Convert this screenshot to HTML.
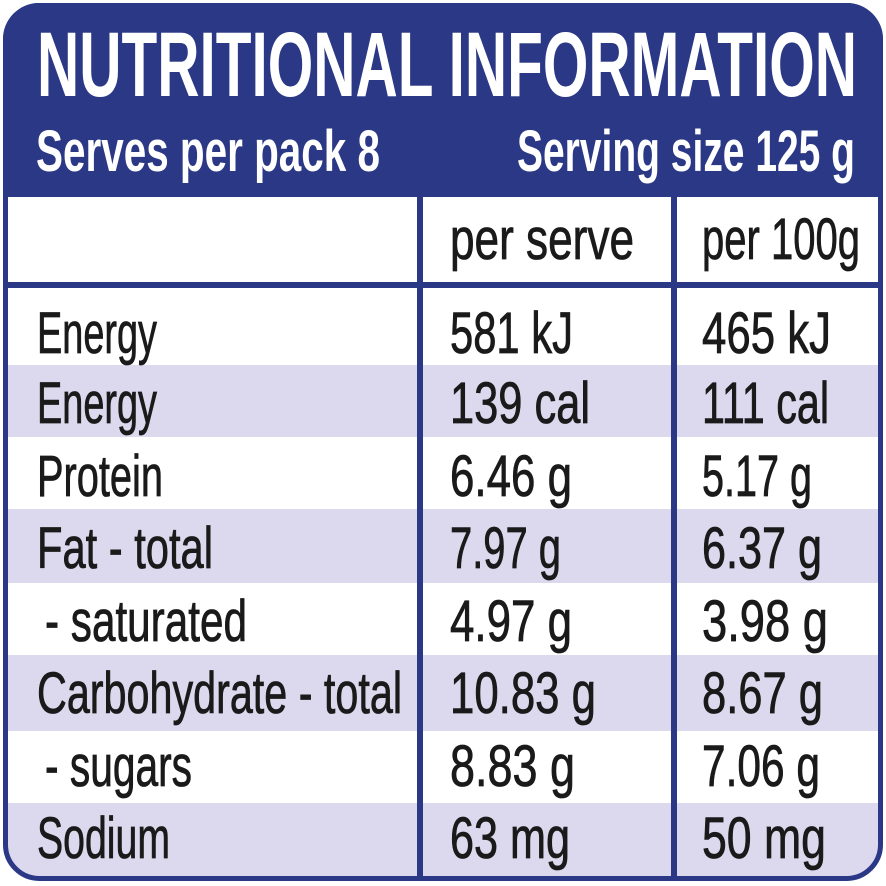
<!DOCTYPE html>
<html><head><style>html,body{margin:0;padding:0;background:#fff}svg{display:block}</style></head><body>
<svg width="886" height="886" viewBox="0 0 886 886" xmlns="http://www.w3.org/2000/svg" font-family="'Liberation Sans Narrow','Liberation Sans',sans-serif">
<defs><clipPath id="c"><rect x="3" y="3" width="880" height="878" rx="36"/></clipPath></defs>
<g clip-path="url(#c)">
<rect x="0" y="0" width="886" height="886" fill="#fff"/>
<rect x="0" y="0" width="886" height="197" fill="#2b3886"/>
<rect x="0" y="365" width="886" height="72" fill="#dcd9ee"/>
<rect x="0" y="509" width="886" height="74" fill="#dcd9ee"/>
<rect x="0" y="655" width="886" height="76" fill="#dcd9ee"/>
<rect x="0" y="803" width="886" height="80" fill="#dcd9ee"/>
<rect x="0" y="282" width="886" height="6" fill="#2b3886"/>
<rect x="417" y="197" width="6" height="690" fill="#2b3886"/>
<rect x="671" y="197" width="6" height="690" fill="#2b3886"/>
</g>
<rect x="5.5" y="5.5" width="875" height="873" rx="34" fill="none" stroke="#2b3886" stroke-width="5"/>
<g fill="#fff">
<text x="37" y="96" font-size="92" font-weight="bold" textLength="820" lengthAdjust="spacingAndGlyphs">NUTRITIONAL INFORMATION</text>
<text x="36" y="171" font-size="58" font-weight="bold" textLength="344" lengthAdjust="spacingAndGlyphs">Serves per pack 8</text>
<text x="517" y="171" font-size="58" font-weight="bold" textLength="338" lengthAdjust="spacingAndGlyphs">Serving size 125 g</text>
</g>
<g fill="#1a1a1a" stroke="#1a1a1a" stroke-width="0.8" font-size="58">
<text x="450" y="259" textLength="184" lengthAdjust="spacingAndGlyphs">per serve</text>
<text x="702" y="259" textLength="158" lengthAdjust="spacingAndGlyphs">per 100g</text>

<text x="37" y="353" textLength="120" lengthAdjust="spacingAndGlyphs">Energy</text>
<text x="37" y="423" textLength="120" lengthAdjust="spacingAndGlyphs">Energy</text>
<text x="37" y="496" textLength="126" lengthAdjust="spacingAndGlyphs">Protein</text>
<text x="37" y="568" textLength="176" lengthAdjust="spacingAndGlyphs">Fat - total</text>
<text x="45" y="641" textLength="202" lengthAdjust="spacingAndGlyphs">- saturated</text>
<text x="37" y="713" textLength="365" lengthAdjust="spacingAndGlyphs">Carbohydrate - total</text>
<text x="45" y="786" textLength="147" lengthAdjust="spacingAndGlyphs">- sugars</text>
<text x="37" y="858" textLength="133" lengthAdjust="spacingAndGlyphs">Sodium</text>

<text x="450" y="353" textLength="123" lengthAdjust="spacingAndGlyphs">581 kJ</text>
<text x="450" y="423" textLength="140" lengthAdjust="spacingAndGlyphs">139 cal</text>
<text x="450" y="496" textLength="122" lengthAdjust="spacingAndGlyphs">6.46 g</text>
<text x="450" y="568" textLength="111" lengthAdjust="spacingAndGlyphs">7.97 g</text>
<text x="450" y="641" textLength="122" lengthAdjust="spacingAndGlyphs">4.97 g</text>
<text x="450" y="713" textLength="146" lengthAdjust="spacingAndGlyphs">10.83 g</text>
<text x="450" y="786" textLength="125" lengthAdjust="spacingAndGlyphs">8.83 g</text>
<text x="450" y="858" textLength="120" lengthAdjust="spacingAndGlyphs">63 mg</text>

<text x="702" y="353" textLength="129" lengthAdjust="spacingAndGlyphs">465 kJ</text>
<text x="702" y="423" textLength="127" lengthAdjust="spacingAndGlyphs">111 cal</text>
<text x="702" y="496" textLength="110" lengthAdjust="spacingAndGlyphs">5.17 g</text>
<text x="702" y="568" textLength="120" lengthAdjust="spacingAndGlyphs">6.37 g</text>
<text x="702" y="641" textLength="126" lengthAdjust="spacingAndGlyphs">3.98 g</text>
<text x="702" y="713" textLength="121" lengthAdjust="spacingAndGlyphs">8.67 g</text>
<text x="702" y="786" textLength="118" lengthAdjust="spacingAndGlyphs">7.06 g</text>
<text x="702" y="858" textLength="124" lengthAdjust="spacingAndGlyphs">50 mg</text>
</g>
</svg>
</body></html>
